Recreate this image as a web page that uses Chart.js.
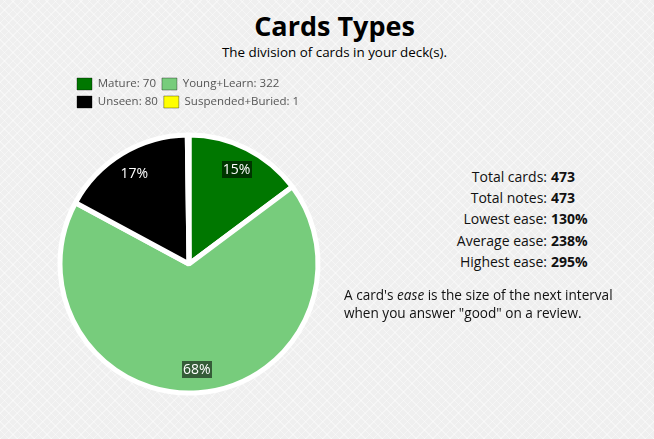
<!DOCTYPE html>
<html>
<head>
<meta charset="utf-8">
<script src="https://cdn.jsdelivr.net/npm/chart.js@4.4.0/dist/chart.umd.min.js"></script>
<style>
  html, body { margin: 0; padding: 0; }
  body {
    width: 654px; height: 439px; overflow: hidden; position: relative;
    font-family: "Open Sans", "DejaVu Sans", sans-serif; color: #111;
    background-color: #efefef;
    background-image:
      repeating-linear-gradient(45deg, rgba(255,255,255,0.4) 0px, rgba(255,255,255,0.4) 1px, transparent 1px, transparent 6px),
      repeating-linear-gradient(-45deg, rgba(255,255,255,0.4) 0px, rgba(255,255,255,0.4) 1px, transparent 1px, transparent 6px);
  }
  #title { position: absolute; left: 0; width: 669px; top: 11px; text-align: center;
    font-size: 27px; font-weight: bold; line-height: 30px; color: #000; }
  #subtitle { position: absolute; left: 0; width: 669px; top: 43px; text-align: center;
    font-size: 13.4px; line-height: 18px; color: #000; }
  #chartBox { position: absolute; left: 0px; top: 72px; width: 378px; height: 338px; }
  #labels { position: absolute; right: 107px; top: 166px; text-align: right; font-size: 14px; line-height: 21.2px; }
  #values { position: absolute; left: 551px; top: 166px; text-align: left; font-size: 14px; line-height: 21.2px; font-weight: bold; }
  #note { position: absolute; left: 344px; top: 286px; font-size: 13.6px; line-height: 17.5px; white-space: nowrap; }
</style>
</head>
<body>
<div id="title">Cards Types</div>
<div id="subtitle">The division of cards in your deck(s).</div>
<div id="chartBox"><canvas id="c"></canvas></div>
<div id="labels"></div>
<div id="values"></div>
<div id="note">A card's <i>ease</i> is the size of the next interval<br>when you answer "good" on a review.</div>
<script>
const categories = ["Mature", "Young+Learn", "Unseen", "Suspended+Buried"];
const counts = [70, 322, 80, 1];
const sliceColors = ["#007700", "#77cc7c", "#000000", "#ffff00"];
const statLabels = ["Total cards:", "Total notes:", "Lowest ease:", "Average ease:", "Highest ease:"];
const statValues = ["473", "473", "130%", "238%", "295%"];

document.getElementById('labels').innerHTML = statLabels.map(s => '<div>' + s + '</div>').join('');
document.getElementById('values').innerHTML = statValues.map(s => '<div>' + s + '</div>').join('');

const total = counts.reduce((a, b) => a + b, 0);

const pctPlugin = {
  id: 'pctLabels',
  afterDatasetsDraw(chart) {
    const ctx = chart.ctx;
    const meta = chart.getDatasetMeta(0);
    ctx.save();
    ctx.font = '14px "Open Sans", sans-serif';
    ctx.textAlign = 'center';
    ctx.textBaseline = 'middle';
    meta.data.forEach((arc, i) => {
      const pct = Math.round(counts[i] / total * 100);
      if (pct < 3) return;
      const p = arc.getProps(['x', 'y', 'startAngle', 'endAngle', 'outerRadius'], true);
      const mid = (p.startAngle + p.endAngle) / 2;
      const r = p.outerRadius * 0.82;
      const lx = p.x + Math.cos(mid) * r;
      const ly = p.y + Math.sin(mid) * r;
      const txt = pct + '%';
      const w = ctx.measureText(txt).width + 2;
      ctx.fillStyle = 'rgba(0,0,0,0.55)';
      ctx.fillRect(Math.round(lx - w / 2), Math.round(ly - 8), Math.round(w), 17);
      ctx.fillStyle = '#ffffff';
      ctx.fillText(txt, lx, ly + 0.5);
    });
    ctx.restore();
  }
};

new Chart(document.getElementById('c'), {
  type: 'pie',
  data: {
    labels: categories,
    datasets: [{
      data: counts,
      backgroundColor: sliceColors,
      borderColor: '#ffffff',
      borderWidth: 5,
      radius: 129
    }]
  },
  options: {
    responsive: true,
    maintainAspectRatio: false,
    animation: false,
    layout: { padding: { left: 71, right: 71, top: 0, bottom: 0 } },
    plugins: {
      tooltip: { enabled: false },
      legend: {
        position: 'top',
        align: 'start',
        labels: {
          boxWidth: 15,
          boxHeight: 12,
          padding: 6,
          color: '#555555',
          font: { size: 11.5, family: '"Open Sans", sans-serif' },
          generateLabels(chart) {
            return categories.map((c, i) => ({
              text: c + ': ' + counts[i],
              fillStyle: sliceColors[i],
              strokeStyle: 'rgba(0,0,0,0.35)',
              lineWidth: 1,
              hidden: false,
              index: i,
              fontColor: '#555555'
            }));
          }
        }
      }
    }
  },
  plugins: [pctPlugin]
});
</script>
</body>
</html>
